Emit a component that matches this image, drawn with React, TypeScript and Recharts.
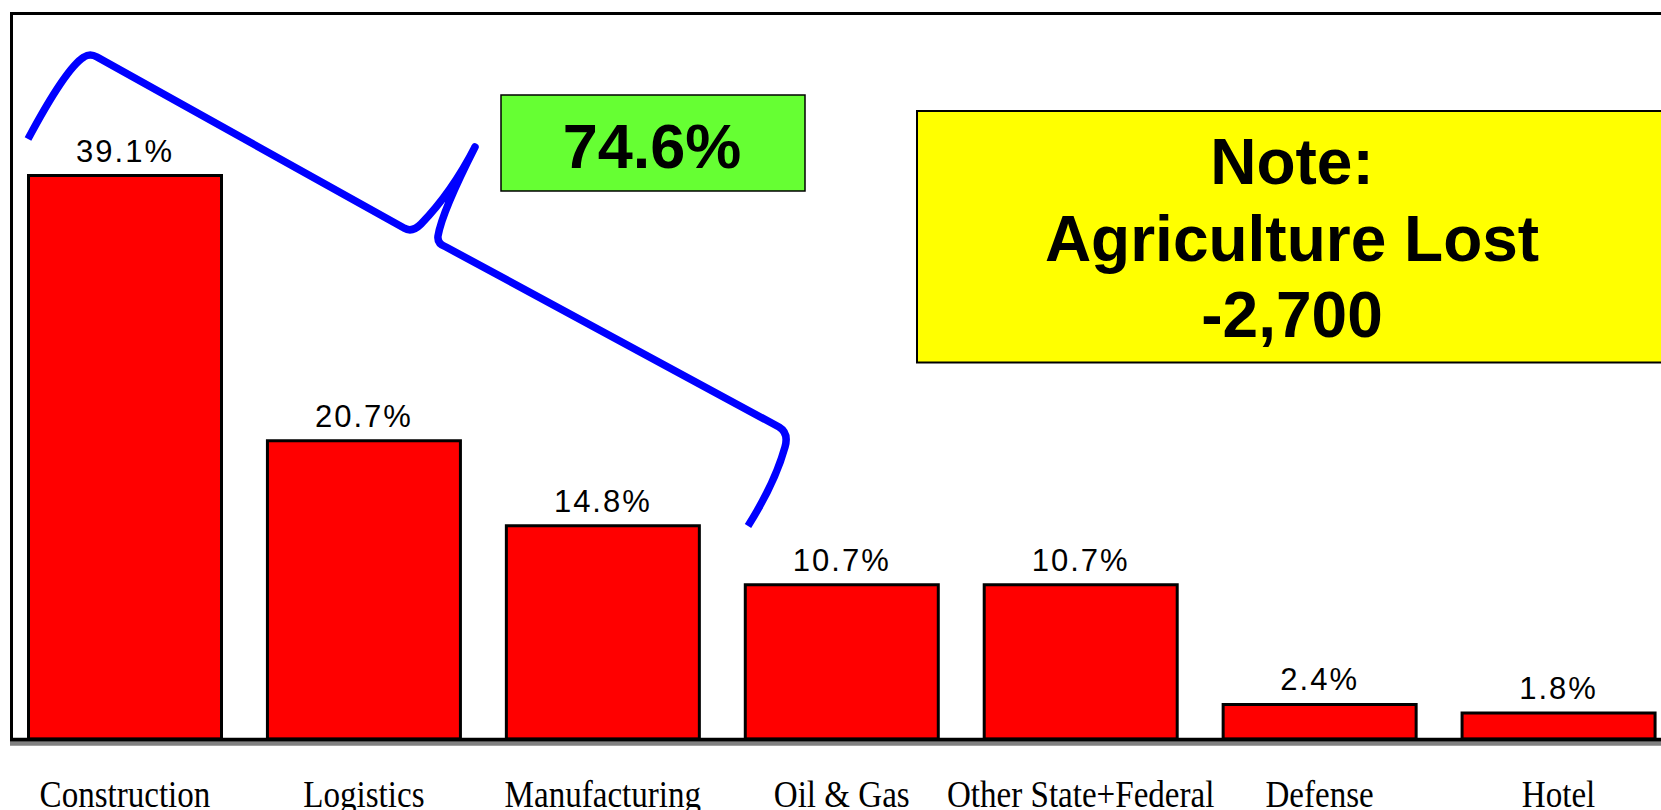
import React from "react"
import { BarChart, Bar, XAxis, YAxis, LabelList } from "recharts"

const categories = ["Construction", "Logistics", "Manufacturing", "Oil & Gas", "Other State+Federal", "Defense", "Hotel"]
const shares = [39.1, 20.7, 14.8, 10.7, 10.7, 2.4, 1.8]
const totalLabel = "74.6%"
const noteLines = ["Note:", "Agriculture Lost", "-2,700"]

const data = categories.map((name, i) => ({ name, value: shares[i] }))

const CatTick = (props: any) => {
    const { x, y, payload } = props
    return (
        <text
            transform={`translate(${x},${y + 59.5}) scale(0.87,1)`}
            textAnchor="middle"
            fontFamily="'Liberation Serif', 'Times New Roman', serif"
            fontSize={38}
            fill="#000"
        >
            {payload.value}
        </text>
    )
}

export default function App() {
    return (
        <div
            style={{
                position: "fixed",
                left: 0,
                top: 0,
                width: 1661,
                height: 810,
                overflow: "hidden",
                background: "#fff",
            }}
        >
            <BarChart
                width={1690}
                height={810}
                data={data}
                margin={{ top: 18.5, right: 12, left: 5.5, bottom: 0 }}
            >
                <XAxis
                    dataKey="name"
                    axisLine={false}
                    tickLine={false}
                    height={71}
                    interval={0}
                    tick={<CatTick />}
                />
                <YAxis hide domain={[0, 50]} />
                <Bar
                    dataKey="value"
                    fill="#FF0000"
                    stroke="#000"
                    strokeWidth={3}
                    barSize={193}
                    isAnimationActive={false}
                >
                    <LabelList
                        dataKey="value"
                        position="top"
                        offset={14}
                        formatter={(v: any) => `${v}%`}
                        fill="#000"
                        fontFamily="'Liberation Sans', Arial, sans-serif"
                        fontSize={31}
                        letterSpacing={2}
                    />
                </Bar>
            </BarChart>

            <svg
                width={1661}
                height={810}
                style={{ position: "absolute", left: 0, top: 0, pointerEvents: "none" }}
            >
                {/* frame */}
                <line x1={10} y1={13.5} x2={1661} y2={13.5} stroke="#000" strokeWidth={3} />
                <line x1={11.5} y1={12} x2={11.5} y2={740} stroke="#000" strokeWidth={3} />
                <line x1={10} y1={739.7} x2={1661} y2={739.7} stroke="#000" strokeWidth={4} />
                <line x1={10} y1={743.7} x2={1661} y2={743.7} stroke="#808080" strokeWidth={4} />

                {/* brace */}
                <path
                    d="M 28 139 Q 66 68 84 57 Q 90 53 97 57 L 404 228 Q 412 233 421 224 Q 452 192 475 147 Q 442 212 438 236 Q 437 244 446 247 L 779 427 Q 789 433 785 447 Q 775 483 748 526"
                    fill="none"
                    stroke="#0000FF"
                    strokeWidth={7.5}
                    strokeLinejoin="round"
                />

                {/* total box */}
                <rect x={501} y={95} width={304} height={96} fill="#66FF33" stroke="#000" strokeWidth={1.5} />
                <text
                    x={652}
                    y={168}
                    textAnchor="middle"
                    fontFamily="'Liberation Sans', Arial, sans-serif"
                    fontWeight="bold"
                    fontSize={63}
                    fill="#000"
                >
                    {totalLabel}
                </text>

                {/* note box */}
                <rect x={917} y={111} width={760} height={251.5} fill="#FFFF00" stroke="#000" strokeWidth={2} />
                {noteLines.map((t, i) => (
                    <text
                        key={t}
                        x={1292}
                        y={184 + i * 76.5}
                        textAnchor="middle"
                        fontFamily="'Liberation Sans', Arial, sans-serif"
                        fontWeight="bold"
                        fontSize={64}
                        fill="#000"
                    >
                        {t}
                    </text>
                ))}
            </svg>
        </div>
    )
}
